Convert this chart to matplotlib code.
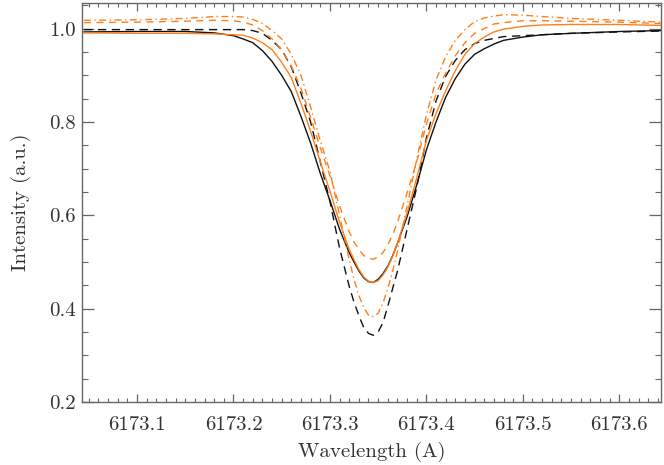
import matplotlib
matplotlib.use("Agg")
import matplotlib.pyplot as plt
from matplotlib.ticker import MultipleLocator, FormatStrFormatter

plt.rcParams['font.family'] = ['cmr10', 'DejaVu Serif']
plt.rcParams['axes.formatter.use_mathtext'] = True

wavelength = [6173.045, 6173.10, 6173.15, 6173.18, 6173.20, 6173.21, 6173.22, 6173.23,
              6173.24, 6173.25, 6173.26, 6173.27, 6173.28, 6173.29, 6173.30, 6173.31,
              6173.32, 6173.325, 6173.33, 6173.335, 6173.34, 6173.345, 6173.35, 6173.355,
              6173.36, 6173.365, 6173.37, 6173.38, 6173.39, 6173.40, 6173.41, 6173.42,
              6173.43, 6173.44, 6173.45, 6173.46, 6173.47, 6173.48, 6173.50, 6173.52,
              6173.55, 6173.60, 6173.643]

black_solid = [0.993, 0.994, 0.994, 0.991, 0.985, 0.978, 0.970, 0.953,
               0.930, 0.900, 0.865, 0.812, 0.755, 0.690, 0.632, 0.570,
               0.520, 0.500, 0.481, 0.466, 0.458, 0.456, 0.463, 0.475,
               0.491, 0.513, 0.540, 0.597, 0.665, 0.740, 0.800, 0.853,
               0.893, 0.924, 0.945, 0.957, 0.967, 0.975, 0.982, 0.987,
               0.990, 0.994, 0.996]

black_dashed = [0.998, 0.998, 0.998, 0.998, 0.998, 0.998, 0.996, 0.990,
                0.975, 0.955, 0.918, 0.862, 0.800, 0.715, 0.630, 0.530,
                0.448, 0.414, 0.385, 0.360, 0.347, 0.343, 0.350, 0.370,
                0.405, 0.443, 0.480, 0.570, 0.660, 0.765, 0.845, 0.898,
                0.932, 0.955, 0.968, 0.975, 0.979, 0.983, 0.985, 0.987,
                0.990, 0.993, 0.995]

orange_solid = [0.991, 0.990, 0.990, 0.989, 0.987, 0.986, 0.980, 0.970,
                0.955, 0.928, 0.895, 0.840, 0.780, 0.715, 0.652, 0.585,
                0.527, 0.505, 0.484, 0.468, 0.459, 0.456, 0.460, 0.472,
                0.489, 0.512, 0.540, 0.605, 0.680, 0.760, 0.818, 0.867,
                0.910, 0.945, 0.968, 0.982, 0.993, 0.999, 1.005, 1.008,
                1.009, 1.009, 1.007]

orange_dashed = [1.013, 1.014, 1.016, 1.018, 1.017, 1.014, 1.008, 0.996,
                 0.978, 0.955, 0.920, 0.872, 0.810, 0.745, 0.685, 0.620,
                 0.565, 0.543, 0.527, 0.514, 0.508, 0.506, 0.511, 0.520,
                 0.537, 0.558, 0.585, 0.648, 0.715, 0.795, 0.860, 0.905,
                 0.942, 0.970, 0.990, 1.000, 1.010, 1.013, 1.017, 1.017,
                 1.016, 1.014, 1.011]

orange_dashdot = [1.018, 1.019, 1.022, 1.026, 1.026, 1.025, 1.020, 1.011,
                  0.996, 0.978, 0.945, 0.900, 0.832, 0.760, 0.695, 0.600,
                  0.505, 0.463, 0.428, 0.403, 0.386, 0.383, 0.390, 0.412,
                  0.443, 0.480, 0.523, 0.620, 0.720, 0.815, 0.890, 0.940,
                  0.975, 0.998, 1.015, 1.023, 1.027, 1.030, 1.029, 1.026,
                  1.022, 1.018, 1.014]

x_min, x_max = 6173.0433, 6173.6433
y_min, y_max = 0.2, 1.055

ORANGE = '#ff7f1a'
BLACK = '#111111'
AXC = '#666666'
TXT = '#333333'
FS = 15

fig = plt.figure(figsize=(6.64, 4.65), dpi=100)
ax = fig.add_axes([0.124, 0.1355, 0.8715, 0.858])

ax.plot(wavelength, black_solid, color=BLACK, lw=1.0, ls='-')
ax.plot(wavelength, black_dashed, color=BLACK, lw=1.0, ls=(0, (6, 4)))
ax.plot(wavelength, orange_solid, color=ORANGE, lw=1.0, ls='-')
ax.plot(wavelength, orange_dashed, color=ORANGE, lw=1.0, ls=(0, (5, 4)))
ax.plot(wavelength, orange_dashdot, color=ORANGE, lw=1.0, ls=(0, (5, 2.5, 1, 2.5)))

ax.set_xlim(x_min, x_max)
ax.set_ylim(y_min, y_max)

ax.xaxis.set_major_locator(MultipleLocator(0.1))
ax.xaxis.set_minor_locator(MultipleLocator(0.01))
ax.yaxis.set_major_locator(MultipleLocator(0.2))
ax.yaxis.set_minor_locator(MultipleLocator(0.05))
ax.xaxis.set_major_formatter(FormatStrFormatter('%.1f'))
ax.yaxis.set_major_formatter(FormatStrFormatter('%.1f'))

for s in ax.spines.values():
    s.set_color(AXC)
    s.set_linewidth(1.0)

ax.tick_params(axis='both', which='both', direction='in', top=True, right=True,
               color=AXC, labelcolor=TXT, labelsize=FS)
ax.tick_params(axis='x', which='major', length=6, width=0.9, pad=10)
ax.tick_params(axis='x', which='minor', length=3, width=0.8)
ax.tick_params(axis='y', which='major', length=8.5, width=0.9, pad=5)
ax.tick_params(axis='y', which='minor', length=4.3, width=0.8)

ax.set_xlabel('Wavelength (A)', fontsize=FS, color=TXT, labelpad=6)
ax.set_ylabel('Intensity (a.u.)', fontsize=FS, color=TXT, labelpad=13)

fig.savefig('out.png', dpi=100)
